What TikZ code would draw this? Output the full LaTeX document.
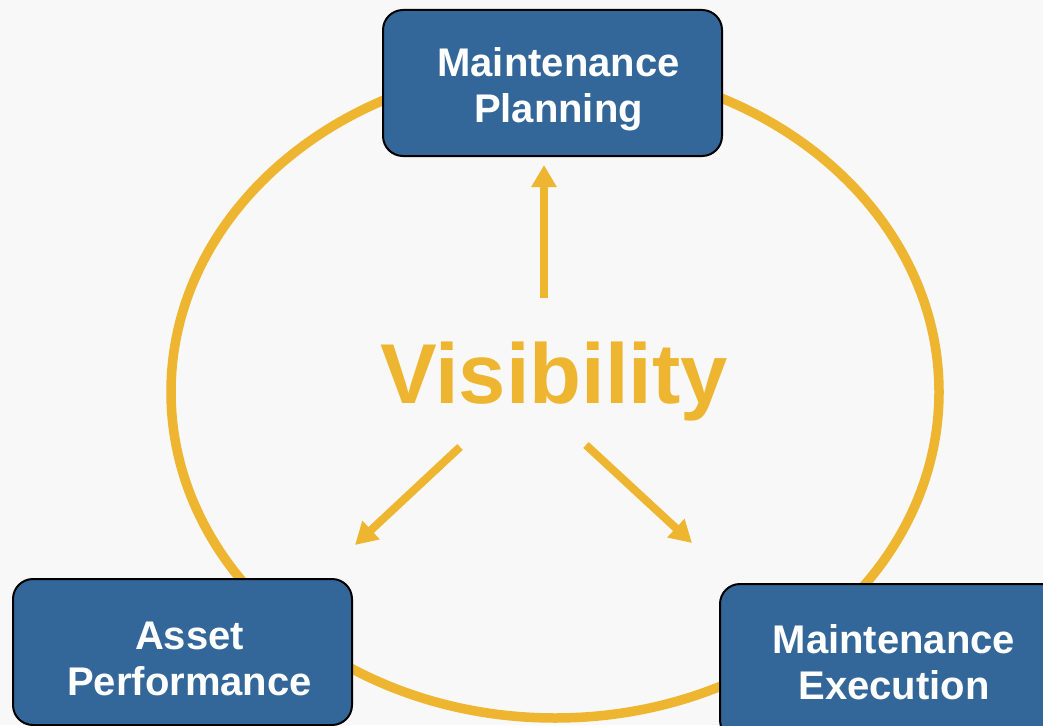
\documentclass[tikz,border=0pt]{standalone}
\usepackage{fontspec}
\setmainfont{Liberation Sans}
\usetikzlibrary{arrows.meta}
\definecolor{boxblue}{HTML}{336699}
\definecolor{gold}{HTML}{EEB530}
\definecolor{bg}{HTML}{F8F8F8}
\tikzset{
  box/.style={draw=black, line width=2pt, fill=boxblue, rounded corners=20pt, inner sep=0pt},
  boxtext/.style={text=white, font=\bfseries\fontsize{40}{46}\selectfont, align=center, inner sep=0pt},
  goldarrow/.style={draw=gold, line width=8pt, -{Triangle[length=22pt,width=24pt]}}
}
\begin{document}
\begin{tikzpicture}[x=1pt,y=-1pt]
\fill[bg] (0,0) rectangle (1043,725);
\useasboundingbox (0,0) rectangle (1043,725);
\clip (0,0) rectangle (1043,725);
\draw[gold, line width=9.5pt] (555,392) ellipse [x radius=384, y radius=326];
\node[box, minimum width=339pt, minimum height=146pt] (plan) at (552.5,83) {};
\node[boxtext] (plantext) at (558.5,89) {Maintenance\\Planning};
\node[box, minimum width=339pt, minimum height=146pt] (asset) at (182.5,652) {};
\node[boxtext] (assettext) at (189.5,659) {Asset\\Performance};
\node[box, minimum width=348pt, minimum height=156pt] (exec) at (894,662) {};
\node[boxtext] (exectext) at (894,662) {Maintenance\\Execution};
\node[anchor=base, text=gold, font=\bfseries\fontsize{85}{90}\selectfont, inner sep=0pt] (vis) at (554,403) {Visibility};
\coordinate (s1) at (544,298);
\coordinate (t1) at (544,165);
\coordinate (s2) at (460,447);
\coordinate (t2) at (355,545);
\coordinate (s3) at (586,445);
\coordinate (t3) at (692,543);
\draw[goldarrow] (s1) -- (t1);
\draw[goldarrow] (s2) -- (t2);
\draw[goldarrow] (s3) -- (t3);
\end{tikzpicture}
\end{document}
